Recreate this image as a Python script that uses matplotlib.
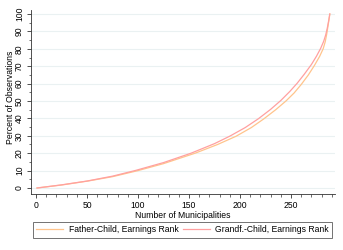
import matplotlib
matplotlib.use("Agg")
import matplotlib.pyplot as plt
from matplotlib.ticker import MultipleLocator

# cumulative share of observations vs number of municipalities
father_n = [1, 25, 51, 75, 100, 125, 156, 178, 196, 211, 223, 235, 245, 253,
            260, 267, 273, 278, 281.5, 283.5, 285, 286.5, 287.5, 288]
father_pct = [0, 1.7, 4, 6.5, 10, 14, 20, 25, 29.7, 34.7, 39.6, 45, 50, 54.6,
              59.5, 65, 70.5, 75.6, 80, 84, 88.5, 94, 97.8, 100]

grand_n = [1, 25, 50, 75, 97, 125, 152, 175, 190, 205, 218, 230, 240, 249,
           256, 263, 270, 275, 279, 282, 284, 285.5, 287, 288]
grand_pct = [0, 1.8, 4, 6.8, 10, 14.6, 20, 25.5, 29.8, 34.7, 39.8, 45.2, 50.3, 55.6,
             60.2, 65.4, 71, 75.8, 80.2, 84.3, 88, 91.8, 96.5, 100]

labels = ["Father-Child, Earnings Rank", "Grandf.-Child, Earnings Rank"]
colors = ["#ffc48c", "#ffa0a0"]

plt.rcParams["font.family"] = ["Liberation Sans", "DejaVu Sans"]
fs = 6.2

fig = plt.figure(figsize=(3.43, 2.5), dpi=100)
ax = fig.add_axes([31 / 343, 56 / 250, 304 / 343, 184 / 250])

ax.plot(father_n, father_pct, color=colors[0], lw=0.9, label=labels[0])
ax.plot(grand_n, grand_pct, color=colors[1], lw=0.9, label=labels[1])

ax.set_xlim(-4.9, 293.1)
ax.set_ylim(-3.45, 102.3)

ax.xaxis.set_minor_locator(MultipleLocator(10))
ax.yaxis.set_minor_locator(MultipleLocator(5))
ax.set_xticks(range(0, 251, 50))
ax.set_yticks(range(0, 101, 10))

ax.grid(True, axis="y", color="#eaf1f2", lw=0.8)
ax.set_axisbelow(True)
for s in ["top", "right"]:
    ax.spines[s].set_visible(False)
for s in ["left", "bottom"]:
    ax.spines[s].set_linewidth(0.6)
    ax.spines[s].set_color("#333333")

ax.tick_params(which="major", length=3, width=0.6, labelsize=fs, pad=2, color="#333333")
ax.tick_params(which="minor", length=1.8, width=0.5, color="#333333")
for t in ax.get_yticklabels():
    t.set_rotation(90)
    t.set_va("center")

ax.set_xlabel("Number of Municipalities", fontsize=fs, labelpad=1)
ax.set_ylabel("Percent of Observations", fontsize=fs)
ax.yaxis.set_label_coords(-0.054, 0.527)

fig.legend(loc="center", bbox_to_anchor=(182.5 / 343, 1 - 230 / 250), ncol=2,
           fontsize=fs, frameon=True, fancybox=False, edgecolor="#333333",
           handlelength=3.2, columnspacing=0.5, handletextpad=0.6,
           borderpad=0.35)
fig.legends[0].get_frame().set_linewidth(0.6)

fig.savefig("out.png", dpi=100, facecolor="white")
